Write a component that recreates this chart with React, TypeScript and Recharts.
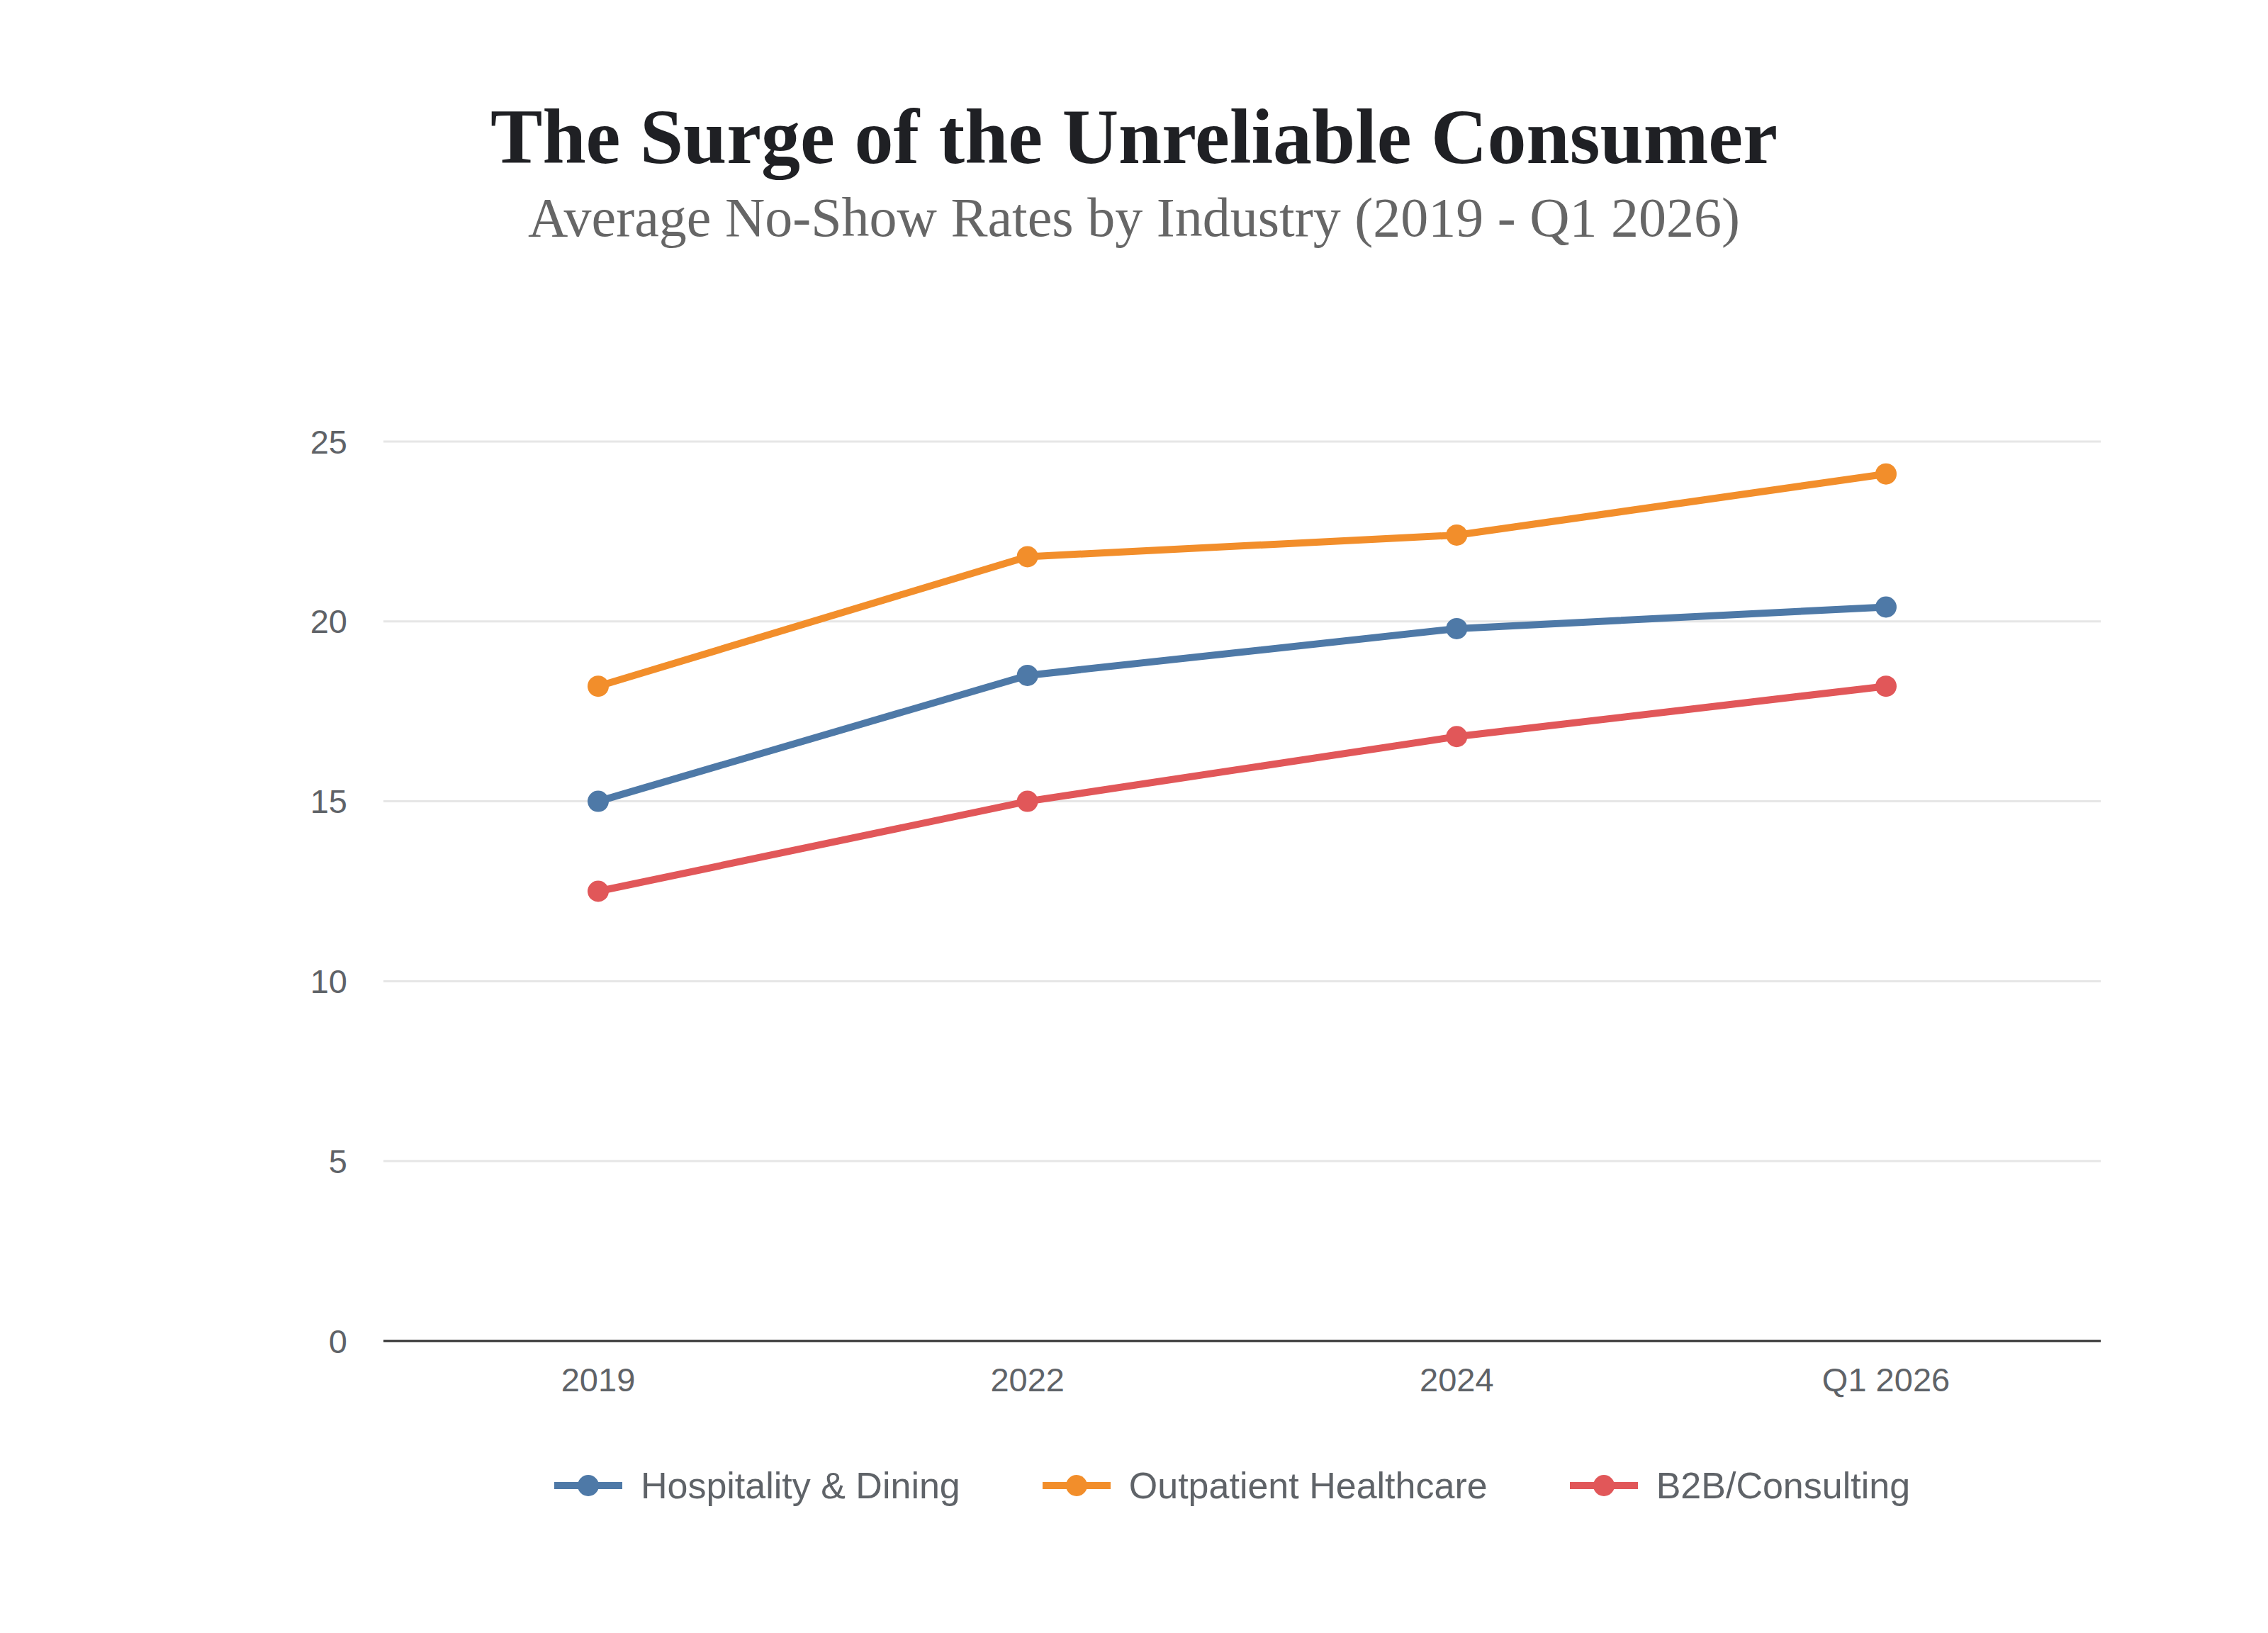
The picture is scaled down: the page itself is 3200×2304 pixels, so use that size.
import React from "react";
import { CartesianGrid, Line, LineChart, XAxis, YAxis } from "recharts";

const periods = ["2019", "2022", "2024", "Q1 2026"];
const hospitality = [15.0, 18.5, 19.8, 20.4];
const outpatient = [18.2, 21.8, 22.4, 24.1];
const consulting = [12.5, 15.0, 16.8, 18.2];
const yTicks = [0, 5, 10, 15, 20, 25];

const series = [
  { key: "Hospitality & Dining", color: "#4e79a7", values: hospitality },
  { key: "Outpatient Healthcare", color: "#f28e2b", values: outpatient },
  { key: "B2B/Consulting", color: "#e15759", values: consulting },
];

const data = periods.map((period, i) => {
  const row: Record<string, string | number> = { period };
  series.forEach((s) => {
    row[s.key] = s.values[i];
  });
  return row;
});

const tickStyle = {
  fontFamily: "'Liberation Sans', Arial, sans-serif",
  fontSize: 47,
  fill: "#5f6368",
};

function ChartLegend() {
  return (
    <div
      style={{
        position: "absolute",
        top: 2066,
        left: 527,
        width: 2423,
        display: "flex",
        justifyContent: "center",
        alignItems: "center",
        gap: 116,
        fontFamily: "'Liberation Sans', Arial, sans-serif",
        fontSize: 52,
        lineHeight: "60px",
        color: "#5f6368",
      }}
    >
      {series.map((s) => (
        <div key={s.key} style={{ display: "flex", alignItems: "center" }}>
          <svg width={96} height={34} style={{ marginRight: 26 }}>
            <line x1={0} y1={17} x2={96} y2={17} stroke={s.color} strokeWidth={10} />
            <circle cx={48} cy={17} r={15} fill={s.color} />
          </svg>
          <span>{s.key}</span>
        </div>
      ))}
    </div>
  );
}

export default function App() {
  return (
    <div
      style={{
        position: "absolute",
        left: 0,
        top: 0,
        width: 3200,
        height: 2304,
        background: "#ffffff",
      }}
    >
      <div
        style={{
          position: "absolute",
          top: 128,
          left: 0,
          width: 3200,
          textAlign: "center",
          fontFamily: "'Liberation Serif', 'DejaVu Serif', serif",
          fontWeight: 700,
          fontSize: 110,
          lineHeight: "130px",
          color: "#1f2024",
        }}
      >
        The Surge of the Unreliable Consumer
      </div>
      <div
        style={{
          position: "absolute",
          top: 262,
          left: 0,
          width: 3200,
          textAlign: "center",
          fontFamily: "'Liberation Serif', 'DejaVu Serif', serif",
          fontSize: 78,
          lineHeight: "90px",
          color: "#666666",
        }}
      >
        Average No-Show Rates by Industry (2019 - Q1 2026)
      </div>
      <div style={{ position: "absolute", left: 0, top: 0 }}>
        <LineChart
          width={3200}
          height={2304}
          data={data}
          margin={{ top: 623, right: 236, bottom: 332, left: 441 }}
        >
          <CartesianGrid vertical={false} stroke="#e6e6e6" strokeWidth={3} />
          <XAxis
            dataKey="period"
            padding={{ left: 303, right: 303 }}
            axisLine={{ stroke: "#333333", strokeWidth: 3 }}
            tickLine={false}
            tickSize={0}
            tickMargin={38}
            tick={tickStyle}
            height={80}
          />
          <YAxis
            width={100}
            domain={[0, 25]}
            ticks={yTicks}
            axisLine={false}
            tickLine={false}
            tickSize={0}
            tickMargin={51}
            tick={tickStyle}
          />
          {series.map((s) => (
            <Line
              key={s.key}
              type="linear"
              dataKey={s.key}
              stroke={s.color}
              strokeWidth={10}
              dot={{ r: 15, fill: s.color, stroke: s.color, strokeWidth: 0 }}
              activeDot={false}
              isAnimationActive={false}
            />
          ))}
        </LineChart>
      </div>
      <ChartLegend />
    </div>
  );
}
